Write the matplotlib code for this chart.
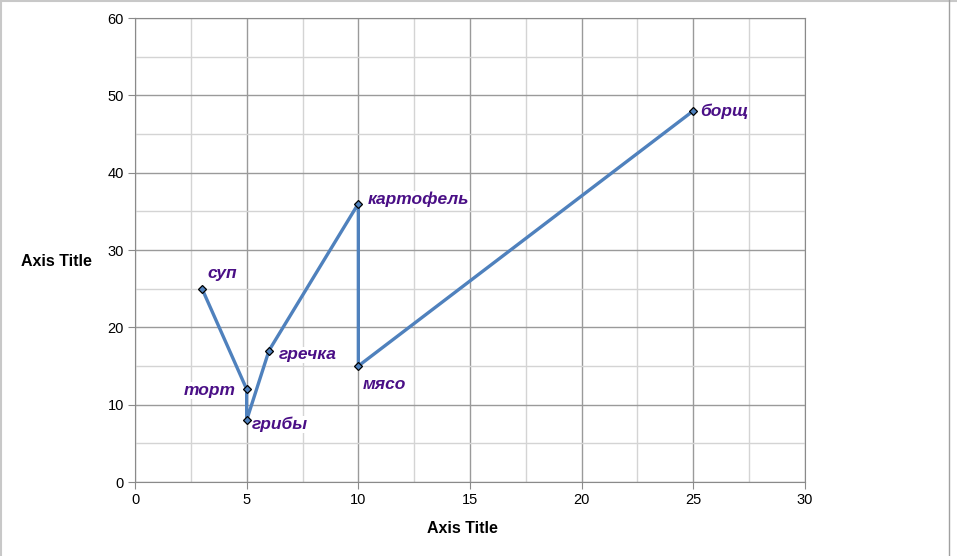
import matplotlib.pyplot as plt
from matplotlib.ticker import MultipleLocator

names = ["суп", "торт", "грибы", "гречка", "картофель", "мясо", "борщ"]
xs = [3, 5, 5, 6, 10, 10, 25]
ys = [25, 12, 8, 17, 36, 15, 48]
# label offsets in points (dx, dy, ha)
offs = [(4, 11, "left"), (-8, -1, "right"), (4, -3, "left"), (7, -3, "left"),
        (7, 3, "left"), (3, -13, "left"), (5, 0, "left")]

plt.rcParams["font.family"] = ["Liberation Sans", "DejaVu Sans"]

fig = plt.figure(figsize=(9.57, 5.56), dpi=100)
ax = fig.add_axes([135/957, 1-482/556, 670/957, 464/556])

ax.plot(xs, ys, color="#4f81bd", lw=2.4, marker="D", markersize=4.5,
        markerfacecolor="#4f81bd", markeredgecolor="black", markeredgewidth=0.9, zorder=3)

for n, x, y, (dx, dy, ha) in zip(names, xs, ys, offs):
    ax.annotate(n, (x, y), xytext=(dx, dy), textcoords="offset points", ha=ha, va="center",
                fontsize=12.5, fontweight="bold", fontstyle="italic", color="#4a0f86",
                bbox=dict(facecolor="white", edgecolor="none", pad=0.5), zorder=4)

ax.set_xlim(0, 30)
ax.set_ylim(0, 60)
ax.xaxis.set_major_locator(MultipleLocator(5))
ax.xaxis.set_minor_locator(MultipleLocator(2.5))
ax.yaxis.set_major_locator(MultipleLocator(10))
ax.yaxis.set_minor_locator(MultipleLocator(5))
ax.grid(which="major", color="#9a9a9a", lw=1.0)
ax.grid(which="minor", color="#d4d4d4", lw=1.0)
ax.set_axisbelow(True)
ax.tick_params(which="major", direction="out", length=5, color="#8a8a8a", labelsize=10.5, pad=3)
ax.tick_params(which="minor", length=0)
for s in ax.spines.values():
    s.set_color("#8a8a8a")

ax.set_xlabel("Axis Title", fontsize=11.5, fontweight="heavy")
ax.xaxis.set_label_coords(0.488, -0.084)
ax.set_ylabel("Axis Title", fontsize=11.5, fontweight="heavy", rotation=0)
ax.yaxis.set_label_coords(-0.118, 0.46)

# window edges
fig.add_artist(plt.Line2D([0, 1], [0.999, 0.999], color="#c8c8c8", lw=1.5))
fig.add_artist(plt.Line2D([0.001, 0.001], [0, 1], color="#c8c8c8", lw=1.5))
fig.add_artist(plt.Line2D([949/957, 949/957], [0, 1], color="#a0a0a0", lw=1))

fig.savefig("out.png")
